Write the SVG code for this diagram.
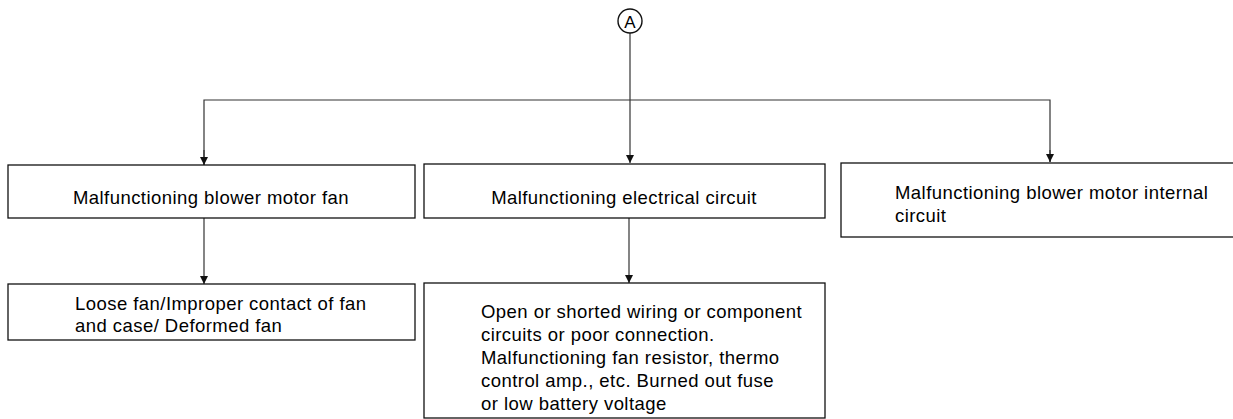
<svg xmlns="http://www.w3.org/2000/svg" width="1233" height="419" viewBox="0 0 1233 419">
<style>
.box{fill:#fff;stroke:#111;stroke-width:1.3}
.t{font-family:"Liberation Sans",Arial,sans-serif;font-size:18.5px;fill:#000;letter-spacing:0.45px}
.c{text-anchor:middle}
.ln{fill:none;stroke:#333;stroke-width:1.2}
</style>
<defs>
<marker id="ah" viewBox="0 0 10 10" refX="10" refY="5" markerWidth="8" markerHeight="8" markerUnits="userSpaceOnUse" orient="auto">
<path d="M0,0 L10,5 L0,10 z" fill="#111"/>
</marker>
</defs>
<g id="connectors">
<line class="ln" x1="630" y1="33" x2="630" y2="163" marker-end="url(#ah)"/>
<polyline class="ln" points="204,165 204,100 1050,100 1050,162"/>
<line class="ln" x1="204" y1="150" x2="204" y2="165" marker-end="url(#ah)"/>
<line class="ln" x1="1050" y1="150" x2="1050" y2="162" marker-end="url(#ah)"/>
<line class="ln" x1="204" y1="218" x2="204" y2="284" marker-end="url(#ah)"/>
<line class="ln" x1="629" y1="218" x2="629" y2="283" marker-end="url(#ah)"/>
</g>
<g id="nodeA">
<circle cx="630" cy="21" r="12" fill="#fff" stroke="#111" stroke-width="1.4"/>
<text class="t c" x="630" y="27.5" style="font-size:17px;letter-spacing:0">A</text>
</g>
<g id="n1">
<rect class="box" x="8" y="165" width="407" height="53"/>
<text class="t c" x="211" y="203.5">Malfunctioning blower motor fan</text>
</g>
<g id="n2">
<rect class="box" x="424" y="164" width="401" height="54"/>
<text class="t c" x="624" y="203.5">Malfunctioning electrical circuit</text>
</g>
<g id="n3">
<rect class="box" x="841" y="163" width="400" height="74"/>
<text class="t" x="895" y="199">Malfunctioning blower motor internal</text>
<text class="t" x="895" y="222">circuit</text>
</g>
<g id="n4">
<rect class="box" x="8" y="284" width="407" height="56"/>
<text class="t" x="75" y="310">Loose fan/Improper contact of fan</text>
<text class="t" x="75" y="332">and case/ Deformed fan</text>
</g>
<g id="n5">
<rect class="box" x="424" y="283" width="401" height="135"/>
<text class="t" x="481" y="317.5">Open or shorted wiring or component</text>
<text class="t" x="481" y="340.5">circuits or poor connection.</text>
<text class="t" x="481" y="363.5">Malfunctioning fan resistor, thermo</text>
<text class="t" x="481" y="386.5">control amp., etc. Burned out fuse</text>
<text class="t" x="481" y="409.5">or low battery voltage</text>
</g>
</svg>
